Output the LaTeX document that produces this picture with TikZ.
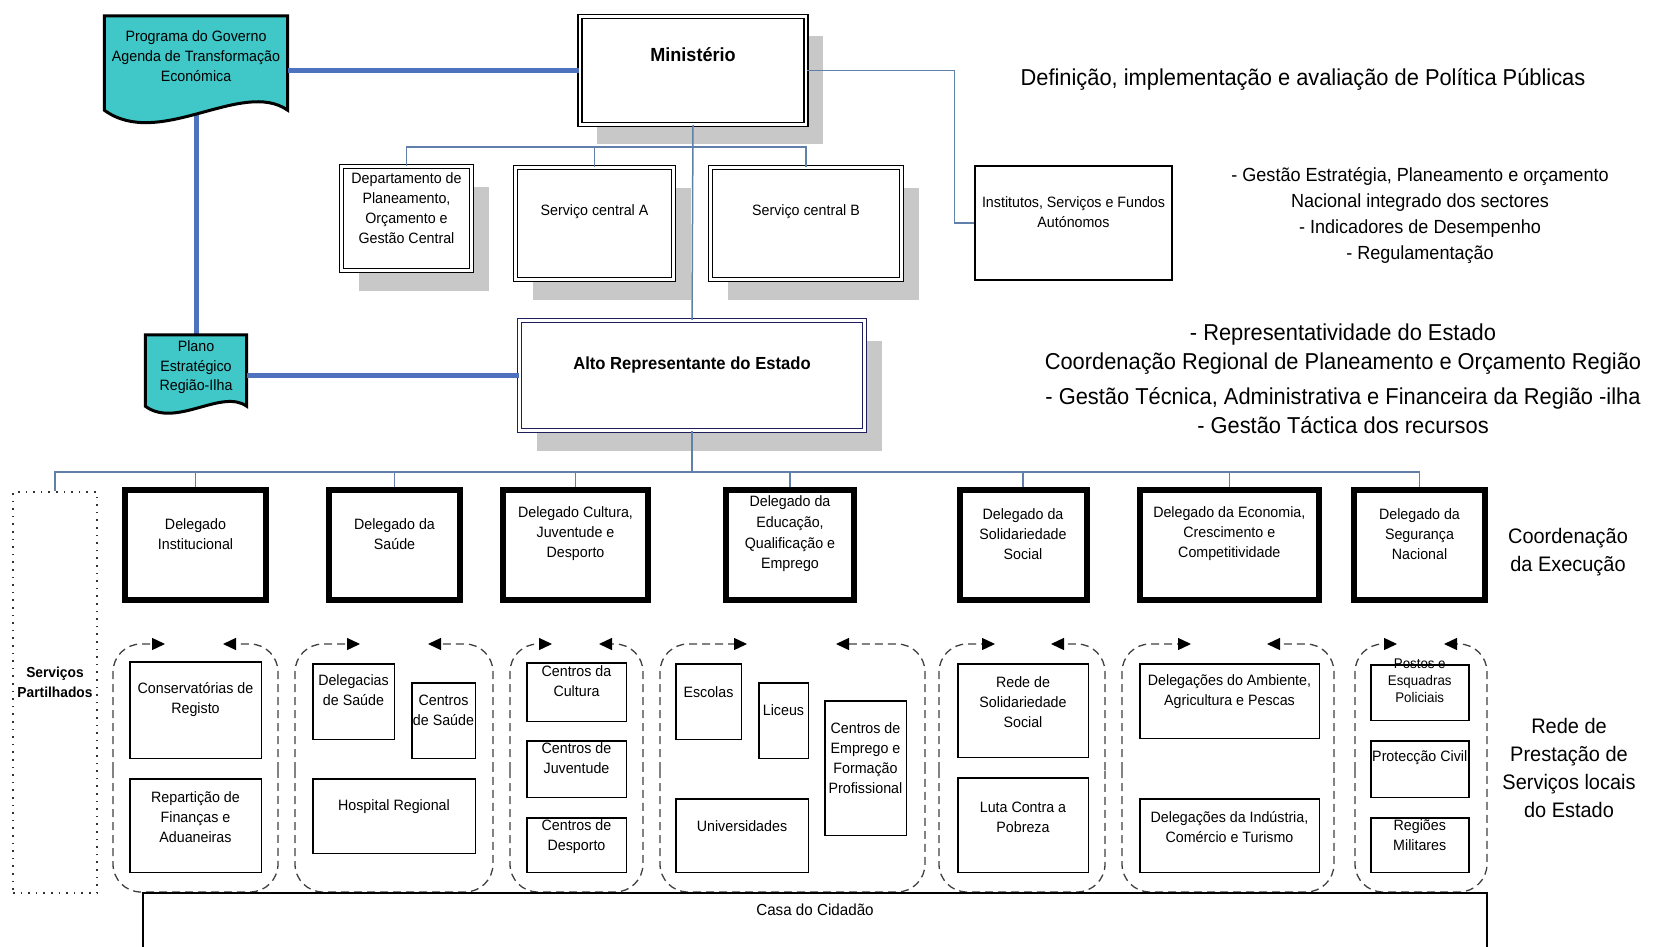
\documentclass[tikz,border=0pt]{standalone}
\usepackage{fontspec}
\setmainfont[FakeStretch=0.95]{Liberation Sans}
\usetikzlibrary{arrows.meta, shadows, calc, math}

\definecolor{docfill}{RGB}{64,199,199}
\definecolor{linkblue}{RGB}{79,114,190}
\definecolor{thinblue}{RGB}{96,128,170}
\definecolor{shade}{RGB}{200,200,200}
\definecolor{navy}{RGB}{30,30,95}

\tikzset{
  txs/.style={font=\fontsize{15}{20}\selectfont, align=center, inner sep=0},
  txm/.style={font=\fontsize{19}{26}\selectfont, align=center, inner sep=0},
  txr/.style={font=\fontsize{21}{28}\selectfont, align=center, inner sep=0},
  txb/.style={font=\fontsize{23}{29}\selectfont, align=center, inner sep=0},
  shadowed/.style={drop shadow={shadow xshift=17pt, shadow yshift=-20pt, fill=shade, opacity=1}},
  box/.style={draw, fill=white, line width=1.5, inner sep=0},
  dbl/.style={box, line width=1.3, double=white, double distance=2.5, shadowed},
  dlg/.style={draw, fill=white, line width=6, inner sep=0, minimum height=110},
  docnode/.style={inner sep=0},
  docline/.style={draw=black, fill=docfill, line width=3},
  conn/.style={draw=thinblue, line width=1.5},
  thicklink/.style={draw=linkblue, line width=5},
  grp/.style={draw=black!75, line width=1.3, dash pattern=on 8pt off 5pt, rounded corners=28pt},
  grptip/.style={grp, -{Triangle[length=13pt,width=12pt,black]}},
  dots/.style={draw=black!80, line width=1.6, dash pattern=on 1.6pt off 6pt}
}

\newcommand\docshape[2]{%
  \draw[docline] (#1.north west) -- (#1.north east) -- (#1.south east)
  .. controls ($(#1.south east)!0.25!(#1.south west)+(0,-#2)$) and ($(#1.south west)!0.3!(#1.south east)+(0,1.25*#2)$) .. (#1.south west) -- cycle;}

\begin{document}
\begin{tikzpicture}[x=1pt, y=-1pt, line join=miter]
\tikzmath{
\gt=644;
\gm=770;
\gb=892;
}
\useasboundingbox (0,0) rectangle (1655,947);

% central level
\node[dbl, minimum width=226, minimum height=108] (min) at (693,70.5) {};
\node[dbl, minimum width=130, minimum height=104] (dept) at (406.5,218.5) {};
\node[dbl, minimum width=158, minimum height=112] (sva) at (594.5,223.5) {};
\node[dbl, minimum width=191, minimum height=112] (svb) at (806,223.5) {};
\node[box, minimum width=197, minimum height=114] (inst) at (1073.5,223) {};
\node[dbl, draw=navy, minimum width=345, minimum height=110] (alto) at (692,375.5) {};

% documents
\node[docnode, minimum width=183, minimum height=94] (prog) at (196,63) {};
\node[docnode, minimum width=101, minimum height=71] (plano) at (196,370.5) {};
\draw[thicklink] (prog) -- (plano);
\docshape{prog}{32}
\docshape{plano}{18}
\draw[thicklink] (prog.east |- min.west) -- (min.west);
\draw[thicklink] (plano.east |- alto.west) -- (alto.west);

% delegates
\node[dlg, minimum width=141] (dinst) at (195.5,544.7) {};
\node[dlg, minimum width=131] (dsau) at (394.5,544.7) {};
\node[dlg, minimum width=145] (dcul) at (575.5,544.7) {};
\node[dlg, minimum width=128] (dedu) at (790,544.7) {};
\node[dlg, minimum width=127] (dsol) at (1023,544.7) {};
\node[dlg, minimum width=179] (deco) at (1229.3,544.7) {};
\node[dlg, minimum width=131] (dseg) at (1419.5,544.7) {};
\node[dots, minimum width=84, minimum height=401] (sp) at (55,692.5) {};

% connectors
\coordinate (b1) at (693,147);
\coordinate (b2) at (692,472);
\draw[conn] (min.south) -- (alto.north);
\draw[conn] (dept.north) |- (b1) -| (svb.north);
\draw[conn] (sva.north) -- (sva.north |- b1);
\draw[conn] (min.east) -- ++(148,0) |- (inst.west);
\draw[conn] (alto.south) -- (b2);
\draw[conn] (sp.north) |- (b2) -| (dseg.north);
\foreach \n in {dinst,dsau,dcul,dedu,dsol,deco}
  \draw[conn] (\n.north) -- (\n.north |- b2);

% local networks
\foreach \l/\r/\a/\b in {113/278/165/223, 295/493/360/428, 510/643/552/599, 660/925/747/836, 939/1105/995/1051, 1122/1334/1191/1267, 1355/1487/1397/1444}{
  \draw[grp] (\l,\gm) -- (\l,\gb) -- (\r,\gb) -- (\r,\gm);
  \draw[grptip] (\l,\gm) -- (\l,\gt) -- (\a,\gt);
  \draw[grptip] (\r,\gm) -- (\r,\gt) -- (\b,\gt);
}
\node[box, minimum width=131.5, minimum height=96.5] (cons) at (195.5,710) {};
\node[box, minimum width=131.5, minimum height=93.5] (rep) at (195.5,825.5) {};
\node[box, minimum width=81.5, minimum height=75.5] (dels) at (353.5,701.5) {};
\node[box, minimum width=63.5, minimum height=75.5] (csau) at (443.5,720.5) {};
\node[box, minimum width=162.5, minimum height=74.5] (hosp) at (394,816) {};
\node[box, minimum width=99.5, minimum height=58.5] (ccul) at (576.5,692) {};
\node[box, minimum width=99.5, minimum height=56.5] (cjuv) at (576.5,769) {};
\node[box, minimum width=99.5, minimum height=54.5] (cdes) at (576.5,845) {};
\node[box, minimum width=65.5, minimum height=75.5] (esc) at (708.5,701.5) {};
\node[box, minimum width=49.5, minimum height=75.5] (lic) at (783.5,720.5) {};
\node[box, minimum width=81.5, minimum height=134.5] (cemp) at (865.5,768) {};
\node[box, minimum width=132.5, minimum height=73.5] (univ) at (742,835.5) {};
\node[box, minimum width=130.5, minimum height=93.5] (rede) at (1023,710.5) {};
\node[box, minimum width=130.5, minimum height=94.5] (luta) at (1023,825) {};
\node[box, minimum width=179.5, minimum height=74.5] (amb) at (1229.5,701) {};
\node[box, minimum width=179.5, minimum height=73.5] (ind) at (1229.5,835.5) {};
\node[box, minimum width=98, minimum height=55.5] (post) at (1419.75,692.5) {};
\node[box, minimum width=98, minimum height=56.5] (prot) at (1419.75,769) {};
\node[box, minimum width=98, minimum height=54.5] (regm) at (1419.75,845) {};
\node[box, line width=2, fill=none, minimum width=1344, minimum height=120] (casa) at (815,953) {};

% texts
\node[txs] (progt) at (196,56.5) {Programa do Governo\\Agenda de Transformação\\Económica};
\node[txs, font=\fontsize{15}{19.5}\selectfont] (planot) at (196,367.5) {Plano\\Estratégico\\Região-Ilha};
\node[txm, font=\fontsize{19}{26}\selectfont\bfseries] (mint) at (693,55) {Ministério};
\node[txs] (deptt) at (406.5,208.5) {Departamento de\\Planeamento,\\Orçamento e\\Gestão Central};
\node[txs] (svat) at (594.5,212) {Serviço central A};
\node[txs] (svbt) at (806,212) {Serviço central B};
\node[txs] (instt) at (1073.5,212) {Institutos, Serviços e Fundos\\Autónomos};
\node[txs, font=\fontsize{17.5}{22}\selectfont\bfseries] (altot) at (692,365) {Alto Representante do Estado};

\node[txs] (dinstt) at (195.5,534) {Delegado\\Institucional};
\node[txs] (dsaut) at (394.5,534) {Delegado da\\Saúde};
\node[txs] (dcult) at (575.5,534) {Delegado Cultura,\\Juventude e\\Desporto};
\node[txs, font=\fontsize{15}{20.7}\selectfont] (dedut) at (790,534) {Delegado da\\Educação,\\Qualificação e\\Emprego};
\node[txs] (dsolt) at (1023,534) {Delegado da\\Solidariedade\\Social};
\node[txs] (decot) at (1229.3,534) {Delegado da Economia,\\Crescimento e\\Competitividade};
\node[txs] (dsegt) at (1419.5,534) {Delegado da\\Segurança\\Nacional};
\node[txs, font=\fontsize{14.5}{20}\selectfont\bfseries] (spt) at (55,682) {Serviços\\Partilhados};

\node[txs] (const) at (195.5,700) {Conservatórias de\\Registo};
\node[txs] (rept) at (195.5,817) {Repartição de\\Finanças e\\Aduaneiras};
\node[txs] (delst) at (353.5,690) {Delegacias\\de Saúde};
\node[txs] (csaut) at (443.5,710) {Centros\\de Saúde};
\node[txs] (hospt) at (394,807) {Hospital Regional};
\node[txs] (ccult) at (576.5,681.5) {Centros da\\Cultura};
\node[txs] (cjuvt) at (576.5,758) {Centros de\\Juventude};
\node[txs] (cdest) at (576.5,837) {Centros de\\Desporto};
\node[txs] (esct) at (708.5,692) {Escolas};
\node[txs] (lict) at (783.5,710) {Liceus};
\node[txs] (cempt) at (865.5,758) {Centros de\\Emprego e\\Formação\\Profissional};
\node[txs] (univt) at (742,826) {Universidades};
\node[txs] (redet) at (1023,702) {Rede de\\Solidariedade\\Social};
\node[txs] (lutat) at (1023,817) {Luta Contra a\\Pobreza};
\node[txs] (ambt) at (1229.5,692) {Delegações do Ambiente,\\Agricultura e Pescas};
\node[txs] (indt) at (1229.5,827) {Delegações da Indústria,\\Comércio e Turismo};
\node[txs, font=\fontsize{14}{17}\selectfont] (postt) at (1419.75,681) {Postos e\\Esquadras\\Policiais};
\node[txs] (prott) at (1419.75,758) {Protecção Civil};
\node[txs] (regmt) at (1419.75,835) {Regiões\\Militares};
\node[txs, font=\fontsize{16}{20}\selectfont] (casat) at (815,910) {Casa do Cidadão};

% right side
\node[txb] (deft) at (1303,79) {Definição, implementação e avaliação de Política Públicas};
\node[txm] (gest) at (1420,216) {- Gestão Estratégia, Planeamento e orçamento\\Nacional integrado dos sectores\\- Indicadores de Desempenho\\- Regulamentação};
\node[txb] (rept2) at (1343,379) {- Representatividade do Estado\\Coordenação Regional de Planeamento e Orçamento Região\\[6pt]- Gestão Técnica, Administrativa e Financeira da Região -ilha\\- Gestão Táctica dos recursos};
\node[txr] (coordt) at (1568,552) {Coordenação\\da Execução};
\node[txr] (redet2) at (1569,768) {Rede de\\Prestação de\\Serviços locais\\do Estado};
\end{tikzpicture}
\end{document}
